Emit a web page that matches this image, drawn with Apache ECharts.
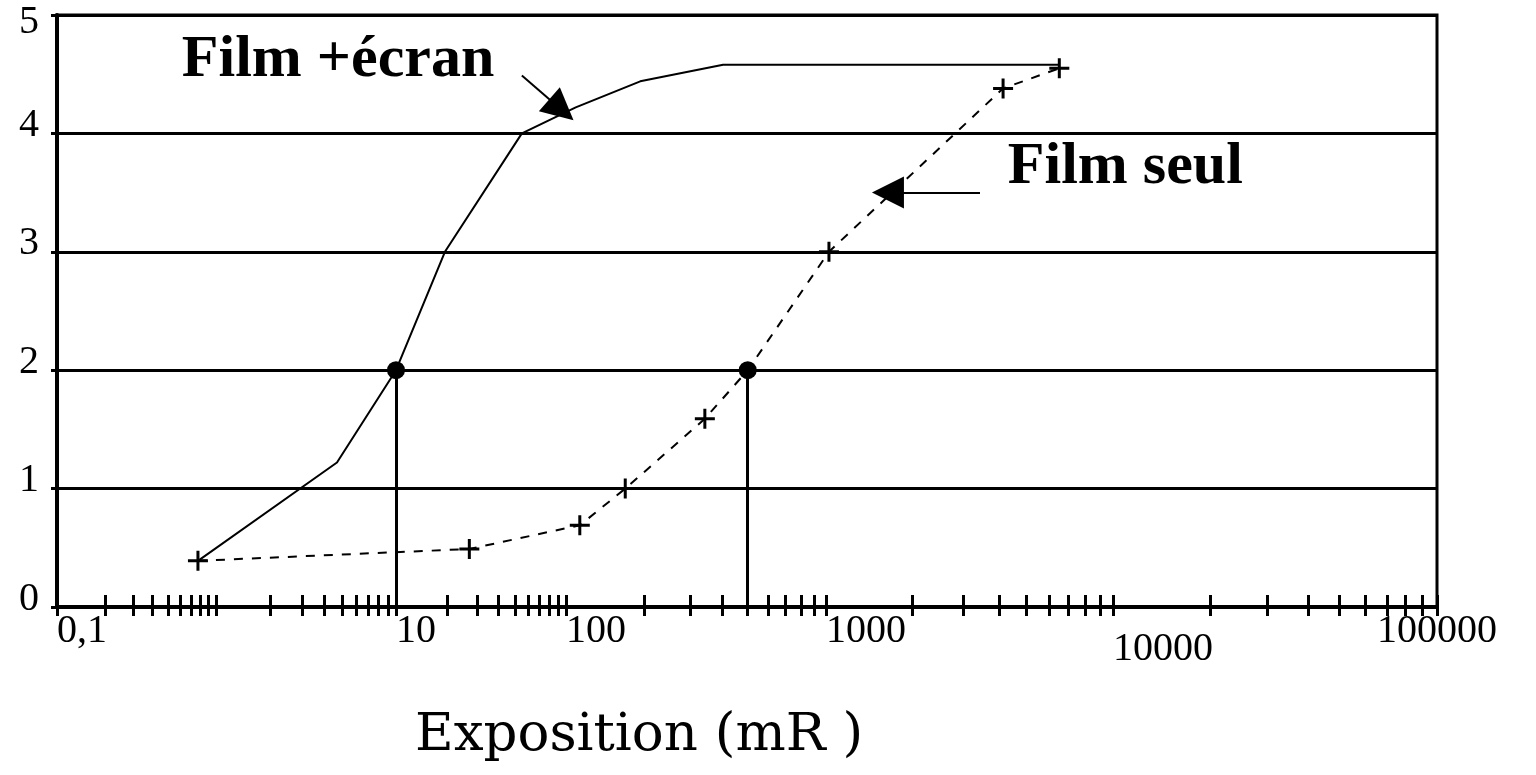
<!DOCTYPE html>
<html>
<head>
<meta charset="utf-8">
<script src="https://cdn.jsdelivr.net/npm/echarts@6/dist/echarts.min.js"></script>
<style>
html, body { margin: 0; padding: 0; background: #fff; }
#chart { width: 1536px; height: 775px; }
</style>
</head>
<body>
<div id="chart"></div>
<script>
// courbes sensitométriques : exposition (mR) / densité optique
const ecranExpo = [0.77, 4.7, 10, 19.4, 55, 109, 193, 402, 6500];
const ecranDensite = [0.39, 1.22, 2, 3, 4, 4.22, 4.44, 4.58, 4.58];
const seulExpo = [0.77, 27, 113, 169, 342, 500, 1024, 4140, 6500];
const seulDensite = [0.39, 0.49, 0.69, 1.0, 1.59, 2, 3, 4.38, 4.55];

// lecture à densité 2
const refDensite = 2;
const refExpo = [10, 500];

// graduation de l'axe des expositions (règle non régulière de l'original)
const decades = [0.1, 1, 10, 100, 1000, 10000, 100000];
const decadeLabels = ['0,1', '', '10', '100', '1000', '10000', '100000'];
const decadeSpan = [159, 180, 170, 260, 287, 324];

const yTicks = [0, 1, 2, 3, 4, 5];

// annotations
const noteText = ['Film +écran', 'Film seul'];
const noteAt = [[0.61, 4.36], [4300, 3.46]];
const arrowFrom = [[55, 4.49], [3440, 3.5]];
const arrowTo = [[94, 4.2], [1644, 3.5]];

const serif = '"Liberation Serif", "Times New Roman", serif';

const ruler = (v) => {
    let pos = 0;
    for (let i = 0; i < decadeSpan.length; i++) {
        if (v <= decades[i + 1] || i === decadeSpan.length - 1) {
            return pos + decadeSpan[i] * Math.log10(v / decades[i]);
        }
        pos += decadeSpan[i];
    }
};
const rulerMax = decadeSpan.reduce((a, b) => a + b, 0);

const tickValues = [];
for (let i = 0; i < decadeSpan.length; i++) {
    for (let k = 1; k < 10; k++) tickValues.push(ruler(k * decades[i]));
}
tickValues.push(rulerMax);
const labelValues = decades.map(ruler);

const labelFor = (val) => {
    const i = labelValues.findIndex(p => Math.abs(p - val) < 0.5);
    if (i < 0) return '';
    return decadeLabels[i] === '10000' ? '{low|10000}' : decadeLabels[i];
};

const plus = 'path://M0,8.5H20V11.5H0Z M8.5,0H11.5V20H8.5Z';

const note = (i) => ({
    symbol: 'rect',
    symbolSize: 0,
    itemStyle: { color: 'transparent' },
    label: {
        show: true,
        position: [0, 0],
        align: 'left',
        verticalAlign: 'bottom',
        formatter: '{b}',
        color: '#000',
        fontFamily: serif,
        fontWeight: 'bold',
        fontSize: 60
    },
    data: [{ name: noteText[i], coord: [ruler(noteAt[i][0]), noteAt[i][1]] }]
});
const arrow = (i) => ({
    silent: true,
    symbol: ['none', 'triangle'],
    symbolSize: 32,
    label: { show: false },
    lineStyle: { color: '#000', width: 2, type: 'solid' },
    data: [[
        { coord: [ruler(arrowFrom[i][0]), arrowFrom[i][1]] },
        { coord: [ruler(arrowTo[i][0]), arrowTo[i][1]] }
    ]]
});

const chart = echarts.init(document.getElementById('chart'));
const option = {
    animation: false,
    backgroundColor: '#fff',
    title: {
        text: 'Exposition (mR )',
        left: 410,
        top: 705,
        textStyle: { fontFamily: '"DejaVu Serif", serif', fontSize: 53, fontWeight: 'normal', color: '#000' }
    },
    grid: {
        left: 57, right: 99, top: 15, bottom: 168,
        outerBoundsMode: 'none',
        containLabel: false,
        show: true, borderColor: '#000', borderWidth: 3
    },
    xAxis: [{
        type: 'value',
        min: 0,
        max: rulerMax,
        axisLine: { lineStyle: { color: '#000', width: 4 } },
        axisTick: { customValues: tickValues, length: 9, lineStyle: { color: '#000', width: 3 } },
        splitLine: { show: false },
        axisLabel: {
            customValues: labelValues,
            formatter: labelFor,
            align: 'left',
            alignMaxLabel: 'center',
            margin: 4,
            color: '#000',
            fontFamily: serif,
            fontSize: 40,
            rich: { low: { fontFamily: serif, fontSize: 40, color: '#000', padding: [18, 0, 0, 0] } }
        }
    }, {
        type: 'value',
        position: 'bottom',
        min: 0,
        max: rulerMax,
        axisLine: { show: false },
        axisTick: { inside: true, customValues: tickValues, length: 12, lineStyle: { color: '#000', width: 3 } },
        axisLabel: { show: false },
        splitLine: { show: false }
    }],
    yAxis: {
        type: 'value',
        min: yTicks[0],
        max: yTicks[yTicks.length - 1],
        interval: 1,
        axisLine: { show: true, lineStyle: { color: '#000', width: 4 } },
        axisTick: { show: true, length: 6, lineStyle: { color: '#000', width: 3 } },
        splitLine: { lineStyle: { color: '#000', width: 3 } },
        axisLabel: {
            margin: 18,
            verticalAlign: 'middle',
            formatter: (v) => v === yTicks[yTicks.length - 1] ? '{top|' + v + '}' : '{n|' + v + '}',
            rich: {
                n: { fontFamily: serif, fontSize: 40, color: '#000', padding: [0, 0, 16, 0] },
                top: { fontFamily: serif, fontSize: 40, color: '#000', padding: [14, 0, 0, 0] }
            }
        }
    },
    series: [{
        name: 'Film +écran',
        type: 'line',
        data: ecranExpo.map((x, i) => [ruler(x), ecranDensite[i]]),
        showSymbol: false,
        lineStyle: { color: '#000', width: 2 },
        markPoint: note(0),
        markLine: arrow(0),
        z: 3
    }, {
        name: 'Film seul',
        type: 'line',
        data: seulExpo.map((x, i) => [ruler(x), seulDensite[i]]),
        symbol: (val) => val[1] === refDensite ? 'none' : plus,
        symbolSize: 20,
        itemStyle: { color: '#000', borderWidth: 0 },
        lineStyle: { color: '#000', width: 2, type: [9, 9] },
        markPoint: note(1),
        markLine: arrow(1),
        z: 3
    }, {
        name: 'densité 2',
        type: 'scatter',
        data: refExpo.map(x => [ruler(x), refDensite]),
        symbol: 'circle',
        symbolSize: 18,
        itemStyle: { color: '#000', opacity: 1 },
        markLine: {
            silent: true,
            symbol: 'none',
            label: { show: false },
            lineStyle: { color: '#000', width: 3, type: 'solid' },
            data: refExpo.map(x => [{ coord: [ruler(x), 0] }, { coord: [ruler(x), refDensite] }])
        },
        z: 4
    }]
};
chart.setOption(option);
</script>
</body>
</html>
